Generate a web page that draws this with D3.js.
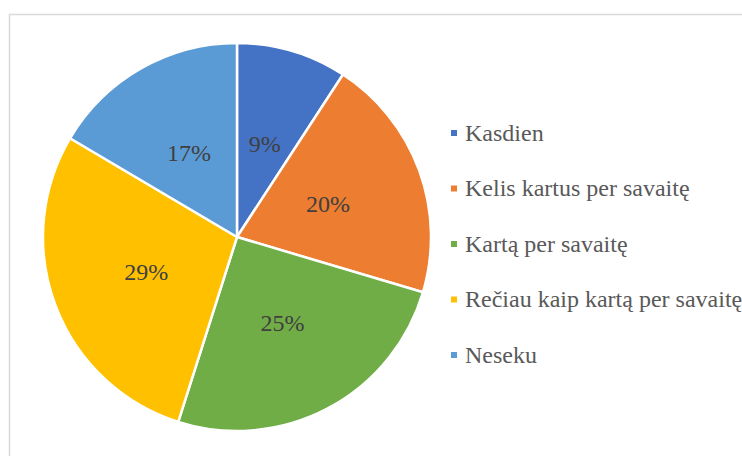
<!DOCTYPE html>
<html>
<head>
  <meta charset="utf-8">
  <title>Pie</title>
  <script src="https://d3js.org/d3.v7.min.js"></script>
<style>
body {
  margin: 0;
  background: #fff;
}
svg text {
  font-size: 24px;
}
.arc text {
  fill: #404040;
  text-anchor: middle;
}
.legend text {
  fill: #595959;
}
</style>
</head>
<body>

<svg width="742" height="456"></svg>
<script>

// chart data
var categories = ["Kasdien", "Kelis kartus per savaitę", "Kartą per savaitę", "Rečiau kaip kartą per savaitę", "Neseku"];
var shares = [9.2, 20.4, 25.3, 28.6, 16.5];
var labels = ["9%", "20%", "25%", "29%", "17%"];
var colors = ["#4472C4", "#ED7D31", "#70AD47", "#FFC000", "#5B9BD5"];

var svg = d3.select("svg"),
    cx = 237,
    cy = 237,
    radius = 194;

// chart area border
svg.append("rect")
    .attr("x", 9.5)
    .attr("y", 14.5)
    .attr("width", 800)
    .attr("height", 500)
    .attr("fill", "none")
    .attr("stroke", "#d9d9d9")
    .attr("stroke-width", 1.5);

var data = categories.map(function(c, i) {
  return {name: c, value: shares[i], label: labels[i], color: colors[i]};
});

var pie = d3.pie()
    .sort(null)
    .value(function(d) { return d.value; });

var path = d3.arc()
    .outerRadius(radius)
    .innerRadius(0);

var label = d3.arc()
    .outerRadius(radius)
    .innerRadius(0);

var g = svg.append("g").attr("transform", "translate(" + cx + "," + cy + ")");

var arc = g.selectAll(".arc")
  .data(pie(data))
  .enter().append("g")
    .attr("class", "arc");

arc.append("path")
    .attr("d", path)
    .attr("fill", function(d) { return d.data.color; })
    .attr("stroke", "#fff")
    .attr("stroke-width", 2.5)
    .attr("stroke-linejoin", "round");

arc.append("text")
    .attr("transform", function(d) { return "translate(" + label.centroid(d) + ")"; })
    .attr("dy", "0.35em")
    .style("font-family", "'Liberation Serif', 'DejaVu Serif', serif")
    .text(function(d) { return d.data.label; });

// legend
var legendY = d3.scalePoint()
    .domain(categories)
    .range([133, 355]);

var legend = svg.append("g")
    .attr("class", "legend")
    .selectAll("g")
  .data(data)
  .enter().append("g")
    .attr("transform", function(d) { return "translate(451," + legendY(d.name) + ")"; });

legend.append("rect")
    .attr("x", 0)
    .attr("y", -3)
    .attr("width", 6)
    .attr("height", 6)
    .attr("fill", function(d) { return d.color; });

legend.append("text")
    .attr("x", 14)
    .attr("dy", "0.32em")
    .style("font-family", "'Liberation Serif', 'DejaVu Serif', serif")
    .text(function(d) { return d.name; });

</script>
</body>
</html>
